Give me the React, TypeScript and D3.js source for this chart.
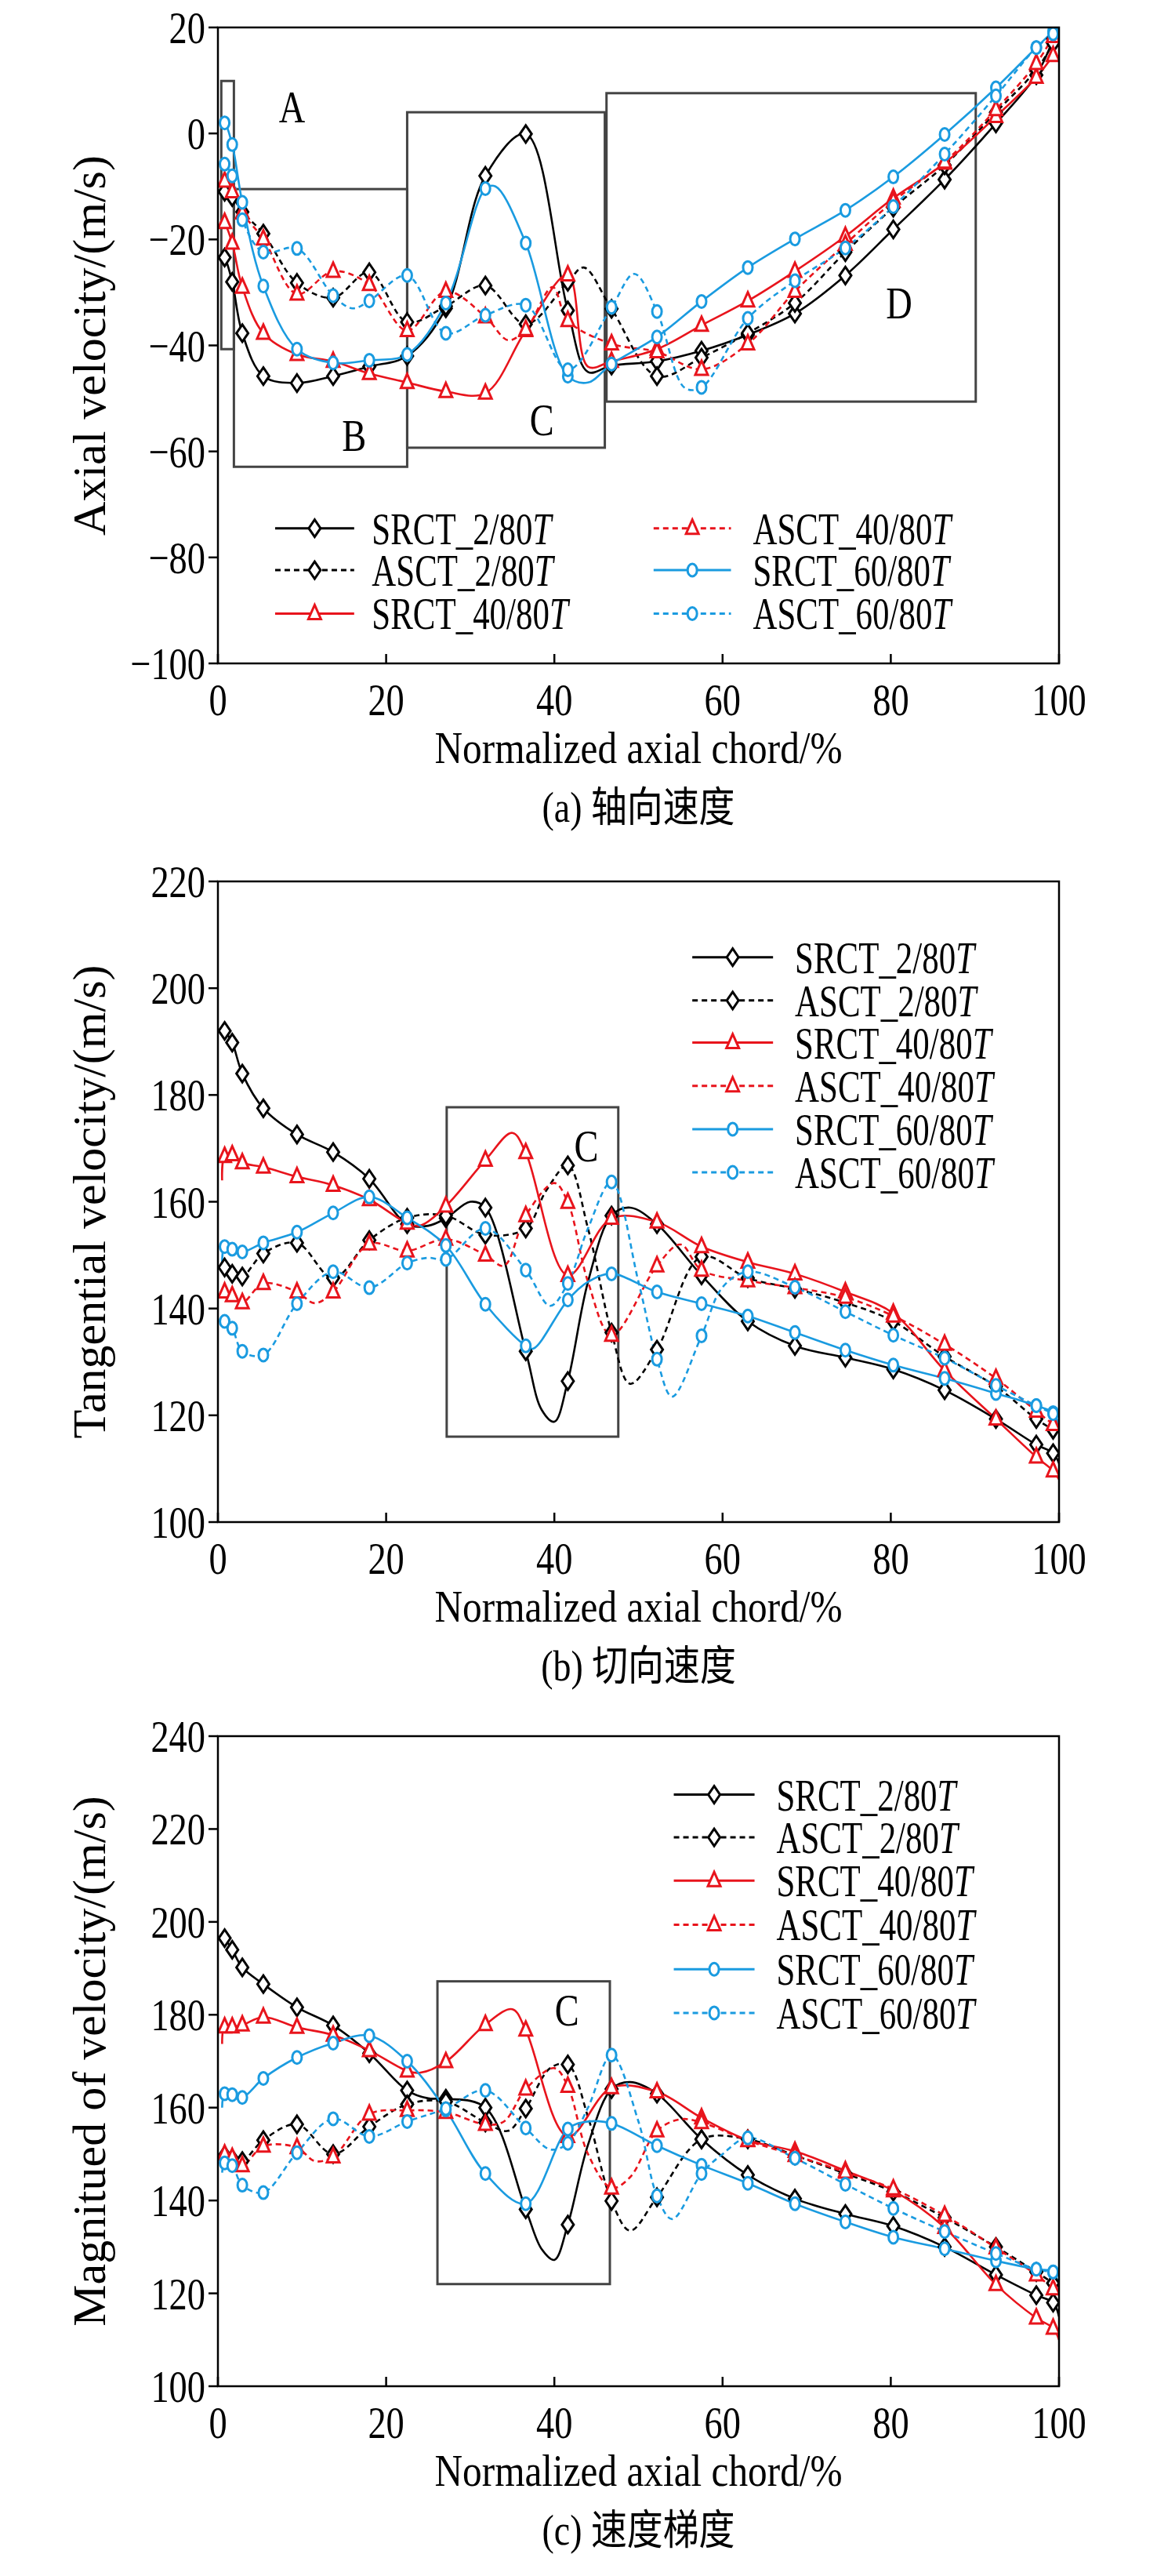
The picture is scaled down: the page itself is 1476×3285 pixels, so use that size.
import React from "react";
import * as d3 from "d3";

type P = [number, number];
const MX = [0.8,1.7,2.9,5.4,9.4,13.7,18,22.5,27.1,31.8,36.6,41.6,46.8,52.2,57.5,63,68.6,74.6,80.3,86.4,92.5,97.3,99.3];
const seriesNames = ["SRCT_2/80", "ASCT_2/80", "SRCT_40/80", "ASCT_40/80", "SRCT_60/80", "ASCT_60/80"];
const colors = ["#000000", "#000000", "#e8141c", "#e8141c", "#1a9be0", "#1a9be0"];
const dashed = [false, true, false, true, false, true];
const shapes = ["diamond", "diamond", "triangle", "triangle", "circle", "circle"];

// (a) axial velocity
const a_SRCT2: P[] = [[0.5,-23],[0.8,-23.4],[1.7,-28],[2.9,-37.7],[5.4,-45.8],[9.4,-47.1],[13.7,-45.8],[18,-44],[22.5,-42],[27.1,-33],[31.8,-8],[36.6,-0.1],[41.6,-33.4],[44,-45],[46.8,-43.8],[52.2,-43],[57.5,-41],[63,-38],[68.6,-34],[74.6,-26.8],[80.3,-18.1],[86.4,-8.7],[92.5,1.9],[97.3,11],[99.3,17.8]];
const a_ASCT2: P[] = [[0.5,-10],[0.8,-11],[1.7,-12],[2.9,-14.8],[5.4,-18.9],[9.4,-28.2],[13.7,-31],[18,-26.2],[22.5,-35.6],[27.1,-32.6],[31.8,-28.7],[36.6,-36],[41.6,-28],[43.5,-25.3],[46.8,-33.1],[52.2,-45.8],[57.5,-42.3],[63,-37.7],[68.6,-32],[74.6,-22.4],[80.3,-14],[86.4,-6],[92.5,4],[97.3,12],[99.3,17]];
const a_SRCT40: P[] = [[0.5,-16],[0.8,-16.8],[1.7,-20.7],[2.9,-29],[5.4,-37.7],[9.4,-41.7],[13.7,-43],[18,-45.3],[22.5,-47],[27.1,-48.7],[31.8,-49],[36.6,-37.2],[41.6,-26.7],[44,-44],[46.8,-43],[52.2,-40.7],[57.5,-36.2],[63,-31.6],[68.6,-26],[74.6,-19.4],[80.3,-12.2],[86.4,-5.6],[92.5,3.2],[97.3,10.6],[99.3,14.7]];
const a_ASCT40: P[] = [[0.5,-9],[0.8,-9],[1.7,-11],[2.9,-15],[5.4,-19.9],[9.4,-30.3],[13.7,-26],[18,-28.5],[22.5,-37.2],[27.1,-29.8],[31.8,-34.6],[34.5,-39],[36.6,-37],[39.8,-29],[41.6,-35.3],[46.8,-39.7],[52.2,-41.2],[57.5,-44.5],[63,-39.7],[68.6,-29.8],[74.6,-20.9],[80.3,-12.8],[86.4,-5.4],[92.5,4.5],[97.3,13.2],[99.3,18.3]];
const a_SRCT60: P[] = [[0.5,2],[0.8,2],[1.7,-2.1],[2.9,-13],[5.4,-28.8],[9.4,-40.7],[13.7,-43.3],[18,-42.8],[22.5,-41.7],[27.1,-32],[31.8,-10.4],[33,-10],[36.6,-20.7],[41.6,-45.8],[44,-47],[46.8,-43.5],[52.2,-38.4],[57.5,-31.7],[63,-25.3],[68.6,-19.9],[74.6,-14.5],[80.3,-8.2],[86.4,-0.2],[92.5,8.6],[97.3,16.2],[99.3,19.3]];
const a_ASCT60: P[] = [[0.5,-6],[0.8,-5.8],[1.7,-8],[2.9,-16.3],[5.4,-22.4],[9.4,-21.7],[13.7,-30.6],[16,-33],[18,-31.6],[22.5,-26.8],[27.1,-37.7],[31.8,-34.3],[36.6,-32.4],[41.6,-44.6],[46.8,-32.8],[49.5,-26.5],[52.2,-33.6],[55.5,-48],[57.5,-47.9],[63,-34.9],[68.6,-27.8],[74.6,-21.6],[80.3,-13.8],[86.4,-3.9],[92.5,7.1],[97.3,16.2],[99.3,18.8]];

// (b) tangential velocity
const b_SRCT2: P[] = [[0.8,192],[1.7,189.8],[2.9,184],[5.4,177.5],[9.4,172.6],[13.7,169.3],[18,164.3],[22.5,155.8],[25,155.5],[27.1,156.9],[30,160],[31.8,158.9],[36.6,132],[38.5,121],[40,118.8],[41.6,126.4],[44,145],[46.8,157.4],[49,158.9],[52.2,155.8],[57.5,146.2],[63,137.6],[68.6,133],[74.6,130.8],[80.3,128.6],[86.4,124.7],[92.5,119.3],[97.3,114.5],[99.3,112.9],[100,111]];
const b_ASCT2: P[] = [[0.8,147.7],[1.7,146.5],[2.9,146],[5.4,150.3],[9.4,152.3],[13.7,145.7],[18,152.8],[22.5,157],[27.1,157.4],[31.8,153.8],[36.6,155],[39,162],[41.6,166.8],[44,155],[46.8,135.5],[49,125.9],[52.2,132.3],[57.5,149.7],[63,145.7],[68.6,143.7],[74.6,141.1],[80.3,137.6],[86.4,131],[92.5,125.4],[97.3,119.3],[99.3,117.3]];
const b_SRCT40: P[] = [[0.5,164],[0.8,168.5],[1.7,168.8],[2.9,167.3],[5.4,166.5],[9.4,164.7],[13.7,163.1],[18,160.4],[22.5,156],[24,155.5],[27.1,159.2],[31.8,167.8],[35,172.9],[36.6,169.2],[41.6,146.2],[46.8,156.9],[52.2,156.2],[57.5,151.6],[63,148.7],[68.6,146.5],[74.6,143.1],[80.3,139.1],[86.4,128.4],[92.5,119.3],[97.3,112.2],[99.3,109.6],[100,108]];
const b_ASCT40: P[] = [[0.5,143],[0.8,143.1],[1.7,142.4],[2.9,141.1],[5.4,144.7],[9.4,143.1],[11.5,141],[13.7,143.1],[18,152.1],[22.5,150.8],[27.1,153],[31.8,150],[34,148],[36.6,157.4],[40,163.5],[41.6,159.9],[44,145],[46.8,135],[52.2,148],[55,152],[57.5,147.2],[63,145.2],[68.6,143.9],[74.6,142.1],[80.3,138.6],[86.4,133.3],[92.5,126.9],[97.3,120.8],[99.3,118.3]];
const b_SRCT60: P[] = [[0.5,148],[0.8,151.6],[1.7,151.1],[2.9,150.6],[5.4,152.3],[9.4,154.3],[13.7,157.9],[18,160.9],[22.5,157],[27.1,151.8],[31.8,140.8],[36.6,133],[37.5,132.5],[41.6,141.6],[44,145],[46.8,146.5],[52.2,143.1],[57.5,140.9],[63,138.6],[68.6,135.5],[74.6,132.2],[80.3,129.4],[86.4,126.9],[92.5,124.1],[97.3,121.8],[99.3,120.5],[100,118]];
const b_ASCT60: P[] = [[0.5,138],[0.8,137.6],[1.7,136.3],[2.9,132],[5.4,131.3],[9.4,140.9],[13.7,146.9],[18,143.9],[22.5,148.5],[25,149.5],[27.1,149.2],[31.8,155],[36.6,147.2],[39.5,140.5],[41.6,144.7],[44,155],[46.8,163.7],[50,145],[52.2,130.5],[54,123.5],[57.5,134.9],[60,144],[63,146.9],[68.6,144],[74.6,139.4],[80.3,135],[86.4,130.7],[92.5,125.6],[97.3,121.8],[99.3,120.3]];

// (c) magnitude of velocity
const c_SRCT2: P[] = [[0.8,196.5],[1.7,194],[2.9,190.2],[5.4,186.6],[9.4,181.6],[13.7,177.7],[18,171.7],[22.5,163.7],[25,162],[27.1,161.9],[31.8,160],[36.6,138.1],[38.5,129.5],[40,127.2],[41.6,134.8],[44,152],[46.8,164],[49,165.5],[52.2,163],[57.5,153.2],[63,145.5],[68.6,140.4],[74.6,137.1],[80.3,134.5],[86.4,130],[92.5,124],[97.3,119.6],[99.3,118],[100,115]];
const c_ASCT2: P[] = [[0.8,149.7],[1.7,149],[2.9,148.5],[5.4,153],[9.4,156.4],[13.7,150],[18,155.9],[22.5,160.7],[27.1,161.3],[31.8,156.8],[34.5,155],[36.6,159.8],[39.5,168.5],[41.6,169.3],[44,158],[46.8,139.9],[49,133.5],[52.2,140.7],[57.5,153.2],[63,153.2],[68.6,149.7],[74.6,145.8],[80.3,141.9],[86.4,136.3],[92.5,130],[97.3,124.6],[99.3,122.2]];
const c_SRCT40: P[] = [[0.5,173.7],[0.8,177.4],[1.7,177.4],[2.9,177.8],[5.4,179.5],[9.4,177.3],[13.7,175.6],[18,172.3],[22.5,167.9],[24,167.5],[27.1,169.9],[31.8,177.9],[35,181.2],[36.6,176.7],[41.6,153.8],[46.8,164.3],[52.2,163.4],[57.5,157.8],[63,153],[68.6,150.6],[74.6,146.4],[80.3,142.1],[86.4,134.2],[92.5,121.9],[97.3,114.7],[99.3,112.5],[100,110]];
const c_ASCT40: P[] = [[0.5,150],[0.8,150],[1.7,149.3],[2.9,147.5],[5.4,151.7],[9.4,151.4],[11.5,148.5],[13.7,149.4],[18,158.6],[22.5,159.4],[27.1,159],[31.8,156.4],[34,157],[36.6,164],[40,168.5],[41.6,164.6],[44,150],[46.8,142.7],[49,145],[52.2,155],[55,157.5],[57.5,156.8],[63,152.9],[68.6,149.7],[74.6,146.1],[80.3,142.5],[86.4,136.8],[92.5,129.8],[97.3,124],[99.3,121]];
const c_SRCT60: P[] = [[0.5,160],[0.8,163],[1.7,162.8],[2.9,162.2],[5.4,166.3],[9.4,170.8],[13.7,173.9],[18,175.5],[22.5,170],[27.1,159.5],[31.8,145.8],[36.6,139.3],[41.6,155.4],[44,157],[46.8,156.6],[52.2,151.8],[57.5,147.6],[63,143.7],[68.6,139.3],[74.6,135.4],[80.3,132.1],[86.4,129.6],[92.5,127],[97.3,125.2],[99.3,124.6],[100,121]];
const c_ASCT60: P[] = [[0.5,146],[0.8,148.1],[1.7,147.5],[2.9,143.3],[5.4,141.7],[9.4,150.3],[13.7,157.6],[18,153.8],[22.5,157],[27.1,159.8],[31.8,163.7],[36.6,155.6],[39.5,151],[41.6,152.3],[44,160],[46.8,171.3],[50,157],[52.2,141],[54,136],[57.5,145.8],[60,150],[63,153.5],[68.6,149.1],[74.6,143.5],[80.3,138.3],[86.4,133.3],[92.5,128.6],[97.3,125.2],[99.3,124.6]];

const xTicks = [0, 20, 40, 60, 80, 100];
const aTicks = [20, 0, -20, -40, -60, -80, -100];
const bTicks = [100, 120, 140, 160, 180, 200, 220];
const cTicks = [100, 120, 140, 160, 180, 200, 220, 240];

type Box = { x0: number; x1: number; y0: number; y1: number };
type Panel = {
  top: number; bottom: number; domain: [number, number]; ticks: number[];
  series: P[][]; ytitle: string; caption: string; boxes: Box[];
  labels: { t: string; x: number; y: number }[];
  legend: { cols: number; rows: number[]; lx0: number[]; lx1: number[]; tx: number[] };
};

const panels: Panel[] = [
  {
    top: 27, bottom: 838, domain: [-100, 20], ticks: aTicks,
    series: [a_SRCT2, a_ASCT2, a_SRCT40, a_ASCT40, a_SRCT60, a_ASCT60],
    ytitle: "Axial velocity/(m/s)", caption: "(a) 轴向速度",
    boxes: [
      { x0: 0.4, x1: 1.9, y0: 9.9, y1: -40.7 },
      { x0: 1.9, x1: 22.5, y0: -10.5, y1: -62.9 },
      { x0: 22.5, x1: 46, y0: 4, y1: -59.3 },
      { x0: 46.2, x1: 90.1, y0: 7.6, y1: -50.6 },
    ],
    labels: [{ t: "A", x: 8.8, y: 5 }, { t: "B", x: 16.2, y: -57 }, { t: "C", x: 38.5, y: -54 }, { t: "D", x: 81, y: -32 }],
    legend: { cols: 2, rows: [-74.5, -82.4, -90.6], lx0: [6.8, 51.8], lx1: [16.2, 61], tx: [18.3, 63.6] },
  },
  {
    top: 1116, bottom: 1933, domain: [100, 220], ticks: bTicks,
    series: [b_SRCT2, b_ASCT2, b_SRCT40, b_ASCT40, b_SRCT60, b_ASCT60],
    ytitle: "Tangential velocity/(m/s)", caption: "(b) 切向速度",
    boxes: [{ x0: 27.2, x1: 47.6, y0: 177.7, y1: 116 }],
    labels: [{ t: "C", x: 43.8, y: 170.5 }],
    legend: { cols: 1, rows: [205.8, 197.7, 189.8, 181.7, 173.6, 165.5], lx0: [56.4], lx1: [66], tx: [68.6] },
  },
  {
    top: 2206, bottom: 3035, domain: [100, 240], ticks: cTicks,
    series: [c_SRCT2, c_ASCT2, c_SRCT40, c_ASCT40, c_SRCT60, c_ASCT60],
    ytitle: "Magnitued of velocity/(m/s)", caption: "(c) 速度梯度",
    boxes: [{ x0: 26.1, x1: 46.6, y0: 187.2, y1: 122 }],
    labels: [{ t: "C", x: 41.5, y: 181 }],
    legend: { cols: 1, rows: [227.4, 218.2, 208.9, 199.4, 189.8, 180.4], lx0: [54.2], lx1: [63.8], tx: [66.4] },
  },
];

const L = 270, R = 1343;
const FONT = "'Liberation Serif', 'Times New Roman', serif";
const CJK = "'Noto Sans CJK SC', sans-serif";

function T({ x, y, size, sx = 0.8, anchor = "start", children, family = FONT }: any) {
  return (
    <text transform={`translate(${x},${y}) scale(${sx},1)`} fontSize={size} fontFamily={family} textAnchor={anchor}>{children}</text>
  );
}

function Marker({ shape, x, y, color }: { shape: string; x: number; y: number; color: string }) {
  const sw = 3;
  if (shape === "diamond") {
    return <path d={`M${x},${y - 11}L${x + 7.5},${y}L${x},${y + 11}L${x - 7.5},${y}Z`} fill="white" stroke={color} strokeWidth={sw} />;
  }
  if (shape === "triangle") {
    return <path d={`M${x},${y - 11}L${x + 8},${y + 7}L${x - 8},${y + 7}Z`} fill="white" stroke={color} strokeWidth={sw} />;
  }
  return <ellipse cx={x} cy={y} rx={6} ry={8} fill="white" stroke={color} strokeWidth={sw} />;
}

function PanelView({ p }: { p: Panel }) {
  const x = d3.scaleLinear().domain([0, 100]).range([L, R]);
  const y = d3.scaleLinear().domain(p.domain).range([p.bottom, p.top]);
  const line = d3.line<P>().x(d => x(d[0])).y(d => y(d[1])).curve(d3.curveCatmullRom.alpha(0.5));
  const cx = (L + R) / 2;
  const cy = (p.top + p.bottom) / 2;
  return (
    <g>
      <defs>
        <clipPath id={`clip${p.top}`}><rect x={L} y={p.top} width={R - L} height={p.bottom - p.top} /></clipPath>
      </defs>
      {p.boxes.map((b, i) => (
        <rect key={i} x={x(b.x0)} y={y(b.y0)} width={x(b.x1) - x(b.x0)} height={y(b.y1) - y(b.y0)} fill="none" stroke="#444" strokeWidth={3} />
      ))}
      {p.labels.map((l, i) => (
        <T key={i} x={x(l.x)} y={y(l.y) + 20} size={58} anchor="middle">{l.t}</T>
      ))}
      <g clipPath={`url(#clip${p.top})`}>
        {p.series.map((s, i) => (
          <path key={i} d={line(s) || ""} fill="none" stroke={colors[i]} strokeWidth={2.6} strokeDasharray={dashed[i] ? "7,5" : undefined} />
        ))}
        {p.series.map((s, i) => s.filter(d => MX.includes(d[0])).map((d, j) => (
          <Marker key={`${i}-${j}`} shape={shapes[i]} x={x(d[0])} y={y(d[1])} color={colors[i]} />
        )))}
      </g>
      <rect x={L} y={p.top} width={R - L} height={p.bottom - p.top} fill="none" stroke="#000" strokeWidth={2.5} />
      {p.ticks.map(t => (
        <g key={t}>
          <line x1={L - 12} x2={L} y1={y(t)} y2={y(t)} stroke="#000" strokeWidth={2.5} />
          <T x={L - 16} y={y(t) + 20} size={58} anchor="end">{t < 0 ? "\u2212" + Math.abs(t) : t}</T>
        </g>
      ))}
      {xTicks.map(t => (
        <g key={t}>
          <line x1={x(t)} x2={x(t)} y1={p.bottom} y2={p.bottom - 12} stroke="#000" strokeWidth={2.5} />
          <T x={x(t)} y={p.bottom + 66} size={58} anchor="middle">{t}</T>
        </g>
      ))}
      <T x={cx} y={p.bottom + 127} size={58} sx={0.85} anchor="middle">Normalized axial chord/%</T>
      <text transform={`translate(${cx},${p.bottom + 202}) scale(0.85,1)`} fontSize={54} textAnchor="middle">
        <tspan fontFamily={FONT}>{p.caption.slice(0, 4)}</tspan>
        <tspan fontFamily={CJK}>{p.caption.slice(4)}</tspan>
      </text>
      <text transform={`translate(${126},${cy}) rotate(-90)`} fontSize={60} fontFamily={FONT} textAnchor="middle">{p.ytitle}</text>
      {seriesNames.map((n, i) => {
        const col = p.legend.cols === 2 ? Math.floor(i / 3) : 0;
        const row = p.legend.cols === 2 ? i % 3 : i;
        const ly = y(p.legend.rows[row]);
        const x0 = x(p.legend.lx0[col]), x1 = x(p.legend.lx1[col]);
        return (
          <g key={n}>
            <line x1={x0} x2={x1} y1={ly} y2={ly} stroke={colors[i]} strokeWidth={3} strokeDasharray={dashed[i] ? "7,5" : undefined} />
            <Marker shape={shapes[i]} x={(x0 + x1) / 2} y={ly} color={colors[i]} />
            <T x={x(p.legend.tx[col])} y={ly + 20} size={58} sx={0.74}>
              {n}<tspan fontStyle="italic">T</tspan>
            </T>
          </g>
        );
      })}
    </g>
  );
}

export default function App() {
  return (
    <svg width={1476} height={3285} style={{ display: "block", background: "white" }}>
      <rect width={1476} height={3285} fill="white" />
      {panels.map((p, i) => <PanelView key={i} p={p} />)}
    </svg>
  );
}
